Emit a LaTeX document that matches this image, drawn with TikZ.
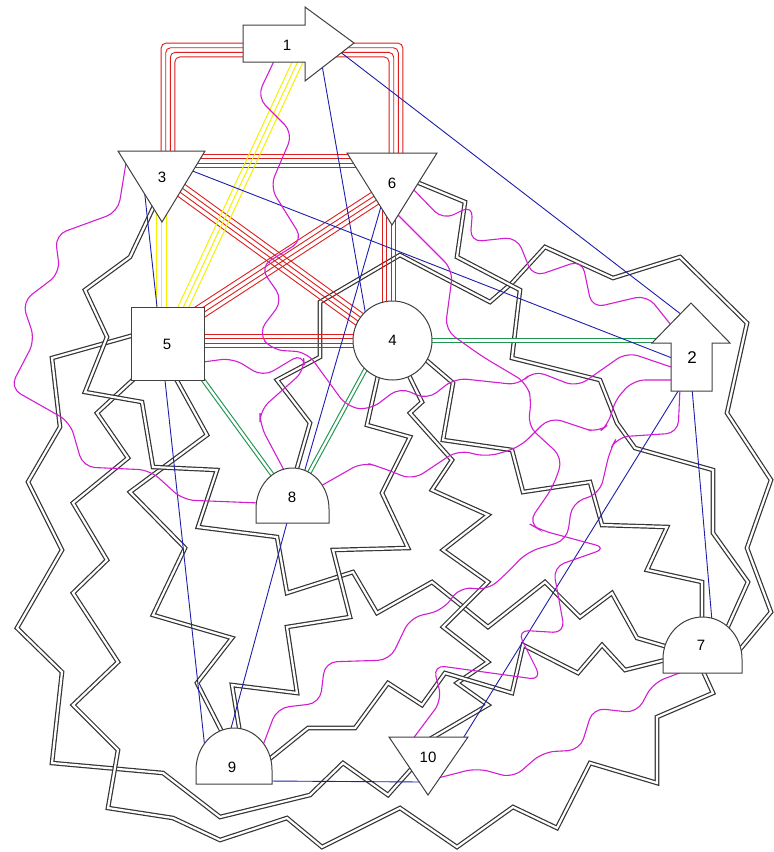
\documentclass[tikz,border=0pt]{standalone}
\usepackage{fontspec}
\setmainfont{Liberation Sans}
\usetikzlibrary{calc,backgrounds}
\definecolor{edgered}{RGB}{220,30,30}
\definecolor{edgeyellow}{RGB}{245,240,0}
\definecolor{edgegreen}{RGB}{30,150,80}
\definecolor{edgeblue}{RGB}{30,30,170}
\definecolor{edgemagenta}{RGB}{210,30,210}

\begin{document}
\begin{tikzpicture}[x=1pt, y=-1pt,
        shapeline/.style={draw=black!75, fill=white, line width=1pt},
        lbl/.style={inner sep=0pt, font=\fontsize{15}{17}\selectfont},
        redline/.style={draw=edgered, line width=0.9pt, rounded corners=5pt},
        yellowline/.style={draw=edgeyellow, line width=1pt},
        greenline/.style={draw=edgegreen, double=white, double distance=2.4pt, line width=1.1pt},
        blueline/.style={draw=edgeblue, line width=0.9pt},
        snakeline/.style={draw=edgemagenta, line width=1.1pt, rounded corners=12pt},
        zigline/.style={draw=black!80, double=white, double distance=2.2pt, line width=1.2pt}]
        \useasboundingbox (0,0) rectangle (774,852);

        % Shapes
        \filldraw[shapeline] (243,25) -- (305,25) -- (305,7) -- (354,43) -- (305,81) -- (305,62) -- (243,62) -- cycle;
        \filldraw[shapeline] (671,391) -- (671,343) -- (652,343) -- (691,303) -- (730,343) -- (712,343) -- (712,391) -- cycle;
        \filldraw[shapeline] (118,151) -- (205,151) -- (162,222) -- cycle;
        \filldraw[shapeline] (392.5,340.5) circle[radius=39.5pt];
        \filldraw[shapeline] (131,307) rectangle (204,380);
        \filldraw[shapeline] (347,153) -- (437,153) -- (392,225) -- cycle;
        \filldraw[shapeline] (663,673) -- (663,659) arc[start angle=180, end angle=0, x radius=39.5pt, y radius=42pt] -- (742,673) -- cycle;
        \filldraw[shapeline] (256,523) -- (256,509) arc[start angle=180, end angle=0, x radius=36.5pt, y radius=41pt] -- (329,523) -- cycle;
        \filldraw[shapeline] (196,784) -- (196,770) arc[start angle=180, end angle=0, x radius=38pt, y radius=42pt] -- (272,784) -- cycle;
        \filldraw[shapeline] (389,737) -- (468,737) -- (428,795) -- cycle;

        % Labels
        \node[lbl] (n1) at (287,45) {1};
        \node[lbl, font=\fontsize{17}{19}\selectfont] (n2) at (692,358) {2};
        \node[lbl] (n3) at (162,177) {3};
        \node[lbl] (n4) at (392.5,340.5) {4};
        \node[lbl] (n5) at (167,344) {5};
        \node[lbl] (n6) at (392,183) {6};
        \node[lbl] (n7) at (701,645) {7};
        \node[lbl] (n8) at (292,497) {8};
        \node[lbl] (n9) at (232,767) {9};
        \node[lbl] (n10) at (428,757) {10};

        \begin{pgfonlayer}{background}
        \fill[white] (0,0) rectangle (774,852);

        % Zigzag edges
        \draw[zigline] ($(n5)+(-33,-9)$) -- (52,358) -- (60,427) -- (28,482) -- (62,550) -- (17,628) -- (62,672) -- (52,763) -- (163,773) -- (220,817) -- (310,795) -- (343,763) -- (388,795) -- ($(n10)+(-15,10)$);
        \draw[zigline] ($(n5)+(-31,33)$) -- (97,413) -- (128,458) -- (73,503) -- (107,560) -- (73,593) -- (118,662) -- (73,705) -- (118,750) -- (108,808) -- (173,818) -- (220,840) -- (287,818) -- (322,847) -- (400,808) -- (457,847) -- (513,807) -- (557,828) -- (590,763) -- (657,783) -- (657,717) -- (713,693) -- ($(n7)+(1,24)$);
        \draw[zigline] ($(n5)+(8,33)$) -- (207,435) -- (130,492) -- (185,548) -- (153,615) -- (232,638) -- (197,683) -- ($(n9)+(-10,-35)$);
        \draw[zigline] ($(n3)+(-7,27)$) -- (130,257) -- (85,290) -- (107,337) -- (85,392) -- (142,402) -- (153,467) -- (217,470) -- (198,527) -- (277,537) -- (287,593) -- (353,572) -- (377,613) -- (432,582) -- (488,627) -- (545,582) -- (580,617) -- (612,593) -- (637,638) -- ($(n7)+(-33,2)$);
        \draw[zigline] ($(n8)+(3,-22)$) -- (310,423) -- (277,380) -- (320,357) -- (320,302) -- (400,255) -- (490,302) -- (512,283) -- (545,247) -- (613,278) -- (680,257) -- (747,323) -- (727,413) -- (771,480) -- (747,548) -- (771,612) -- ($(n7)+(36,8)$);
        \draw[zigline] ($(n6)+(22,-2)$) -- (465,202) -- (457,257) -- (520,290) -- (512,358) -- (600,380) -- (617,423) -- (635,448) -- (713,470) -- (713,533) -- (748,582) -- ($(n7)+(24,-12)$);
        \draw[zigline] ($(n4)+(33,19)$) -- (453,383) -- (443,440) -- (512,450) -- (523,492) -- (590,482) -- (602,525) -- (667,527) -- (647,570) -- (702,582) -- ($(n7)+(1,-24)$);
        \draw[zigline] ($(n4)+(-14,33)$) -- (367,425) -- (410,437) -- (382,493) -- (408,548) -- (333,550) -- (350,617) -- (287,627) -- (297,693) -- (232,685) -- ($(n9)+(8,-34)$);
        \draw[zigline] ($(n4)+(15,32)$) -- (422,402) -- (410,413) -- (452,460) -- (432,490) -- (488,515) -- (443,550) -- (488,582) -- (443,627) -- (488,662) -- (457,683) -- (488,705) -- ($(n10)+(2,-18)$);
        \draw[zigline] ($(n9)+(35,-6)$) -- (308,728) -- (355,728) -- (388,683) -- (422,705) -- (445,673) -- (512,693) -- (523,645) -- (578,673) -- (602,645) -- (625,670) -- ($(n7)+(-36,15)$);

        % Red bundles
        \foreach \o in {-6.9,-2.3,2.3,6.9} {
            \draw[redline] ($(n1)+(-44,5+\o)$) -| ($(n3)+(6+\o,-25)$);
            \draw[redline] ($(n1)+(40,5+\o)$) -| ($(n6)+(4-\o,-30)$);
            \draw[redline] ($(n3)+(0,-16+\o)$) -- ($(n6)+(0,-22+\o)$);
            \draw[redline] ($(n3)+(12,8)+\o*(-0.587,0.809)$) -- ($(n4)+(-30,-19)+\o*(-0.587,0.809)$);
            \draw[redline] ($(n6)+(-12,12)+\o*(0.545,0.838)$) -- ($(n5)+(30,-30)+\o*(0.545,0.838)$);
            \draw[redline] ($(n5)+(0,-3+\o)$) -- ($(n4)+(0,0.5+\o)$);
            \draw[redline] ($(n6)+(-3+\o,0)$) -- ($(n4)+(-3.5+\o,0)$);
        }

        % Yellow bundles
        \foreach \o in {-5,0,5} {
            \draw[yellowline] ($(n1)+(12,14)+\o*(0.906,0.422)$) -- ($(n5)+(15,-34)+\o*(0.906,0.422)$);
            \draw[yellowline] ($(n3)+(-0.5+\o,20)$) -- ($(n5)+(-5.5+\o,-35)$);
        }

        % Green edges
        \draw[greenline] ($(n5)+(34,33)$) -- ($(n8)+(-18,-20)$);
        \draw[greenline] ($(n4)+(-26,27)$) -- ($(n8)+(16,-22)$);
        \draw[greenline] (n4) -- ($(n2)+(-28,-17.5)$);

        % Blue edges
        \draw[blueline] ($(n1)+(35,20)$) -- ($(n4)+(-27,-27)$);
        \draw[blueline] ($(n1)+(52,6)$) -- ($(n2)+(-10,-43)$);
        \draw[blueline] ($(n3)+(28,-7)$) -- ($(n2)+(-20,0)$);
        \draw[blueline] ($(n3)+(-18,10)$) -- ($(n9)+(-27,-18)$);
        \draw[blueline] ($(n6)+(-10,20)$) -- ($(n8)+(12,-24)$);
        \draw[blueline] ($(n8)+(-4,22)$) -- ($(n9)+(-2,-35)$);
        \draw[blueline] ($(n2)+(0,30)$) -- ($(n7)+(11,-24)$);
        \draw[blueline] ($(n2)+(-12,30)$) -- ($(n10)+(34,-17)$);
        \draw[blueline] ($(n9)+(36,14)$) -- ($(n10)+(-6,25)$);

        % Wavy edges
        \draw[snakeline] ($(n3)+(-36,-14)$) -- (118,212) -- (55,235) -- (60,273) -- (22,302) -- (35,340) -- (10,388) -- (70,422) -- (83,467) -- (150,470) -- (183,500) -- ($(n8)+(-32,6)$);
        \draw[snakeline] ($(n1)+(-12,14)$) -- (257,97) -- (293,133) -- (270,187) -- (303,240) -- (260,267) -- (283,300) -- (258,333) -- (272,350) -- (307,352) -- (347,407) -- (370,410) -- (400,387) -- (427,400) -- (455,378) -- (520,385) -- (533,370) -- (577,387) -- (627,352) -- ($(n2)+(-18,10)$);
        \draw[snakeline] ($(n5)+(36,18)$) -- (233,358) -- (263,377) -- (303,353) -- (305,370) -- (260,410) -- (260,425) -- ($(n8)+(-7,-25)$);
        \draw[snakeline] ($(n6)+(20,5)$) -- (443,220) -- (473,205) -- (470,242) -- (517,237) -- (533,277) -- (582,260) -- (592,308) -- (647,295) -- ($(n2)+(-21,-33)$);
        \draw[snakeline] ($(n6)+(4,30)$) -- (453,270) -- (445,330) -- (483,357) -- (527,383) -- (532,403) -- (527,425) -- (563,458) -- (553,487) -- (528,523) -- (540,530) -- (607,548) -- (553,567) -- (565,633) -- (517,630) -- (542,680) -- (433,665) -- (442,700) -- ($(n10)+(-16,-17)$);
        \draw[snakeline] ($(n2)+(-12,30)$) -- (678,433) -- (617,437) -- (610,450) -- (600,493) -- (572,503) -- (567,540) -- (527,552) -- (507,573) -- (488,590) -- (460,587) -- (443,610) -- (410,618) -- (390,660) -- (325,662) -- (320,703) -- (277,708) -- ($(n9)+(30,-19)$);
        \draw[snakeline] ($(n2)+(-18,22)$) -- (633,380) -- (613,403) -- (610,423) -- (598,433) -- (580,427) -- (550,417) -- (520,447) -- (487,457) -- (458,450) -- (413,480) -- (380,467) -- (363,462) -- ($(n8)+(27,-10)$);
        \draw[snakeline] ($(n7)+(-11,24)$) -- (653,683) -- (637,713) -- (593,708) -- (580,750) -- (543,752) -- (513,778) -- (477,768) -- ($(n10)+(10,21)$);
        \end{pgfonlayer}
    \end{tikzpicture}
\end{document}
